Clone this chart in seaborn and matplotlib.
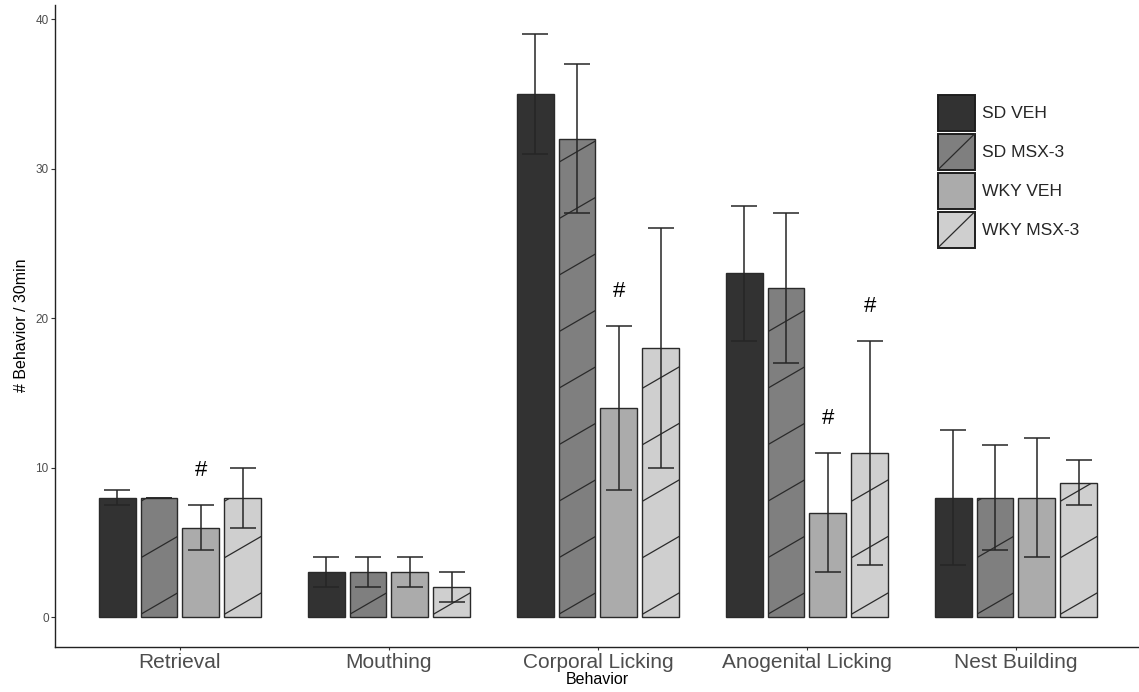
import numpy as np
import pandas as pd
import matplotlib
matplotlib.use("Agg")
import matplotlib.pyplot as plt
import seaborn as sns
from matplotlib.patches import Patch, Rectangle
from matplotlib.lines import Line2D
from matplotlib.legend_handler import HandlerBase
from matplotlib.transforms import IdentityTransform

# ---- data -------------------------------------------------------------
behaviors = ["Retrieval", "Mouthing", "Corporal Licking",
             "Anogenital Licking", "Nest Building"]
groups = ["SD VEH", "SD MSX-3", "WKY VEH", "WKY MSX-3"]

sd_veh = [8, 3, 35, 23, 8]
sd_msx3 = [8, 3, 32, 22, 8]
wky_veh = [6, 3, 14, 7, 8]
wky_msx3 = [8, 2, 18, 11, 9]

sd_veh_sem = [0.5, 1, 4, 4.5, 4.5]
sd_msx3_sem = [0, 1, 5, 5, 3.5]
wky_veh_sem = [1.5, 1, 5.5, 4, 4]
wky_msx3_sem = [2, 1, 8, 7.5, 1.5]

# "#" = significant strain difference
sd_veh_sig = [False, False, False, False, False]
sd_msx3_sig = [False, False, False, False, False]
wky_veh_sig = [True, False, True, True, False]
wky_msx3_sig = [False, False, False, True, False]

fills = ["#323232", "#7f7f7f", "#ababab", "#cfcfcf"]
striped = [False, True, False, True]

means = [sd_veh, sd_msx3, wky_veh, wky_msx3]
sems = [sd_veh_sem, sd_msx3_sem, wky_veh_sem, wky_msx3_sem]
sigs = [sd_veh_sig, sd_msx3_sig, wky_veh_sig, wky_msx3_sig]

df = pd.DataFrame({
    "Behavior": np.tile(behaviors, len(groups)),
    "Group": np.repeat(groups, len(behaviors)),
    "Count": np.concatenate(means),
})

# ---- style ------------------------------------------------------------
sns.set_style("ticks")
plt.rcParams["font.family"] = ["Liberation Sans", "DejaVu Sans"]

W, H = 1139, 692
fig = plt.figure(figsize=(W / 100, H / 100), dpi=100)
ax_left, ax_bottom, ax_top = 55, 45.5, 4.8
ax = fig.add_axes([ax_left / W, ax_bottom / H, (W - ax_left) / W,
                   (H - ax_bottom - ax_top) / H])

edge = "#2a2a2a"
sns.barplot(data=df, x="Behavior", y="Count", hue="Group",
            order=behaviors, hue_order=groups, palette=fills,
            saturation=1, errorbar=None, width=0.8, gap=0.12,
            edgecolor=edge, linewidth=1.0, legend=False, ax=ax)

ax.set_xlim(-0.598, 4.589)
ax.set_ylim(-1.95, 40.95)
ax.set_yticks([0, 10, 20, 30, 40])

# error bars and significance marks
for cont, m_vals, s_vals, sig_vals in zip(ax.containers, means, sems, sigs):
    for bar, m, s, sig in zip(cont, m_vals, s_vals, sig_vals):
        xc = bar.get_x() + bar.get_width() / 2
        ax.errorbar(xc, m, yerr=s, fmt="none", ecolor="#262626",
                    elinewidth=1.1, capsize=9.4, capthick=1.1, zorder=5)
        if sig:
            ax.text(xc, m + s + 2.3, "#", ha="center", va="center",
                    fontsize=16, color="black", zorder=6)

# diagonal stripes on the MSX-3 bars, clipped to each bar
fig.canvas.draw()
spacing, slope = 56.5, 0.58
for cont, has_stripe in zip(ax.containers, striped):
    if not has_stripe:
        continue
    for bar in cont:
        bb = bar.get_window_extent()
        n = int((bb.y1 - bb.y0) / spacing) + 2
        for k in range(-1, n):
            ys = bb.y0 + k * spacing + 3
            ln = Line2D([bb.x0, bb.x1], [ys, ys + slope * (bb.x1 - bb.x0)],
                        transform=IdentityTransform(), color="#2a2a2a",
                        lw=0.9, zorder=bar.get_zorder() + 0.1)
            ax.add_artist(ln)
            ln.set_clip_path(bar.get_path(), bar.get_transform())

# axes cosmetics
sns.despine(ax=ax)
for side in ("left", "bottom"):
    ax.spines[side].set_color("#222222")
    ax.spines[side].set_linewidth(1.0)
ax.tick_params(axis="y", labelsize=8.5, labelcolor="#4d4d4d", length=3,
               width=0.8, color="#333333", pad=1.5)
ax.tick_params(axis="x", labelsize=15, labelcolor="#4d4d4d", length=2.5,
               width=0.8, color="#333333", pad=2.5)
ax.set_xlabel("Behavior", fontsize=11.5, color="black", labelpad=0)
ax.set_ylabel("# Behavior / 30min", fontsize=11.5, color="black", labelpad=5)


# legend with striped keys
class StripeKey(HandlerBase):
    def create_artists(self, legend, orig_handle, xdescent, ydescent,
                       width, height, fontsize, trans):
        rect = Rectangle((-xdescent, -ydescent), width, height,
                         facecolor=orig_handle.get_facecolor(),
                         edgecolor="#1e1e1e", lw=1.4, transform=trans)
        arts = [rect]
        if orig_handle.get_hatch():
            arts.append(Line2D([-xdescent, -xdescent + width],
                               [-ydescent, -ydescent + height],
                               color="#2a2a2a", lw=0.9, transform=trans))
        return arts


handles = [Patch(facecolor=c, hatch="/" if s else None)
           for c, s in zip(fills, striped)]
fig.legend(handles, groups, handler_map={Patch: StripeKey()},
           loc="upper left", bbox_to_anchor=(938 / W, 1 - 94.7 / H),
           frameon=False, fontsize=12.6, handlelength=2.1, handleheight=2.79,
           labelspacing=0.17, handletextpad=0.4, borderpad=0,
           borderaxespad=0)

fig.savefig("out.png", dpi=100)
